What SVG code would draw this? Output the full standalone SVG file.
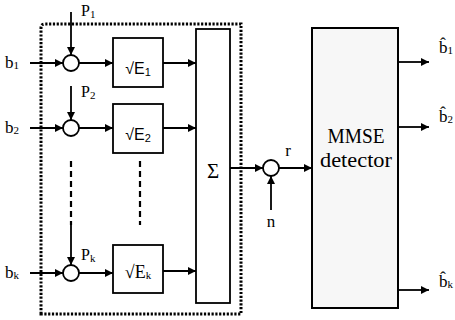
<svg xmlns="http://www.w3.org/2000/svg" width="455" height="320" viewBox="0 0 455 320">
<defs>
<marker id="ah" viewBox="0 0 10 10" refX="10" refY="5" markerWidth="10" markerHeight="8" markerUnits="userSpaceOnUse" orient="auto">
<path d="M0,0 L10,5 L0,10 z" fill="#000"/>
</marker>
<style>
.ln{stroke:#000;stroke-width:1.8;fill:none}
.ar{stroke:#000;stroke-width:1.8;fill:none;marker-end:url(#ah)}
.bx{stroke:#000;stroke-width:1.8;fill:#fff}
.dash{stroke:#000;stroke-width:2.2;stroke-dasharray:6,4;fill:none}
text{fill:#000}
</style>
</defs>
<rect width="455" height="320" fill="#fff"/>

<g id="transmitter-border">
<path d="M41,314 V28 Q41,24 45,24 H241 V314 Z" fill="none" stroke="#000" stroke-width="3" stroke-dasharray="2.2,1.6"/>
</g>

<g id="connectors">
<path class="ar" d="M30,63 H63"/>
<path class="ar" d="M30,128 H63"/>
<path class="ar" d="M30,273 H63"/>
<path class="ar" d="M71,12 V55"/>
<path class="ar" d="M71,86 V120"/>
<path class="dash" d="M71,161 V225"/>
<path class="ar" d="M71,225 V265"/>
<path class="dash" d="M140,161 V225"/>
<path class="ar" d="M79,63 H113"/>
<path class="ar" d="M79,128 H113"/>
<path class="ar" d="M79,273 H113"/>
<path class="ar" d="M163,63 H196"/>
<path class="ar" d="M163,128 H196"/>
<path class="ar" d="M163,271 H196"/>
<path class="ar" d="M230,168 H263"/>
<path class="ar" d="M271,210 V176"/>
<path class="ar" d="M279,168 H312"/>
<path class="ar" d="M398,62 H429"/>
<path class="ar" d="M398,127 H429"/>
<path class="ar" d="M398,290 H429"/>
</g>

<g id="labels-in" font-family="'Liberation Serif','DejaVu Serif',serif">
<text x="5" y="68" font-size="17">b<tspan font-size="11" dy="1">1</tspan></text>
<text x="5" y="133" font-size="17">b<tspan font-size="11" dy="1">2</tspan></text>
<text x="5" y="278" font-size="17">b<tspan font-size="11" dy="1">k</tspan></text>
<text x="81" y="16" font-size="16">P<tspan font-size="11" dy="2">1</tspan></text>
<text x="81" y="97" font-size="16">P<tspan font-size="11" dy="2">2</tspan></text>
<text x="81" y="260" font-size="16">P<tspan font-size="11" dy="2">k</tspan></text>
</g>

<g id="mult1"><circle cx="71" cy="63" r="8" class="bx"/></g>
<g id="mult2"><circle cx="71" cy="128" r="8" class="bx"/></g>
<g id="multk"><circle cx="71" cy="273" r="8" class="bx"/></g>

<g id="amp1"><rect x="113" y="38" width="50" height="49" class="bx"/>
<text font-family="'Liberation Sans',Arial,sans-serif" x="138" y="74" font-size="16" text-anchor="middle">√E<tspan font-size="11" dy="2">1</tspan></text></g>
<g id="amp2"><rect x="113" y="104" width="50" height="49" class="bx"/>
<text font-family="'Liberation Sans',Arial,sans-serif" x="138" y="140" font-size="16" text-anchor="middle">√E<tspan font-size="11" dy="2">2</tspan></text></g>
<g id="ampk"><rect x="113" y="245" width="50" height="48" class="bx"/>
<text font-family="'Liberation Serif','DejaVu Serif',serif" x="138" y="278" font-size="18" text-anchor="middle">√E<tspan font-size="11" dy="1">k</tspan></text></g>

<g id="sum"><rect x="196" y="29" width="34" height="274" class="bx"/>
<text font-family="'Liberation Serif','DejaVu Serif',serif" x="213" y="178" font-size="21" text-anchor="middle">Σ</text></g>

<g id="noise-add"><circle cx="271" cy="168" r="8" class="bx"/></g>
<text font-family="'Liberation Serif','DejaVu Serif',serif" x="271" y="227" font-size="17" text-anchor="middle">n</text>
<text font-family="'Liberation Serif','DejaVu Serif',serif" x="288" y="156" font-size="17" text-anchor="middle">r</text>

<g id="mmse"><rect x="312" y="28" width="86" height="280" stroke="#000" stroke-width="2" fill="#f7f7f7"/>
<text font-family="'Liberation Serif','DejaVu Serif',serif" x="356" y="143" font-size="21" text-anchor="middle" textLength="57" lengthAdjust="spacingAndGlyphs">MMSE</text>
<text font-family="'Liberation Serif','DejaVu Serif',serif" x="356" y="167" font-size="21" text-anchor="middle" textLength="72" lengthAdjust="spacingAndGlyphs">detector</text></g>

<g id="labels-out" font-family="'Liberation Serif','DejaVu Serif',serif">
<text x="439" y="53" font-size="17">b̂<tspan font-size="11" dy="1">1</tspan></text>
<text x="439" y="122" font-size="17">b̂<tspan font-size="11" dy="1">2</tspan></text>
<text x="439" y="287" font-size="17">b̂<tspan font-size="11" dy="1">k</tspan></text>
</g>
</svg>
